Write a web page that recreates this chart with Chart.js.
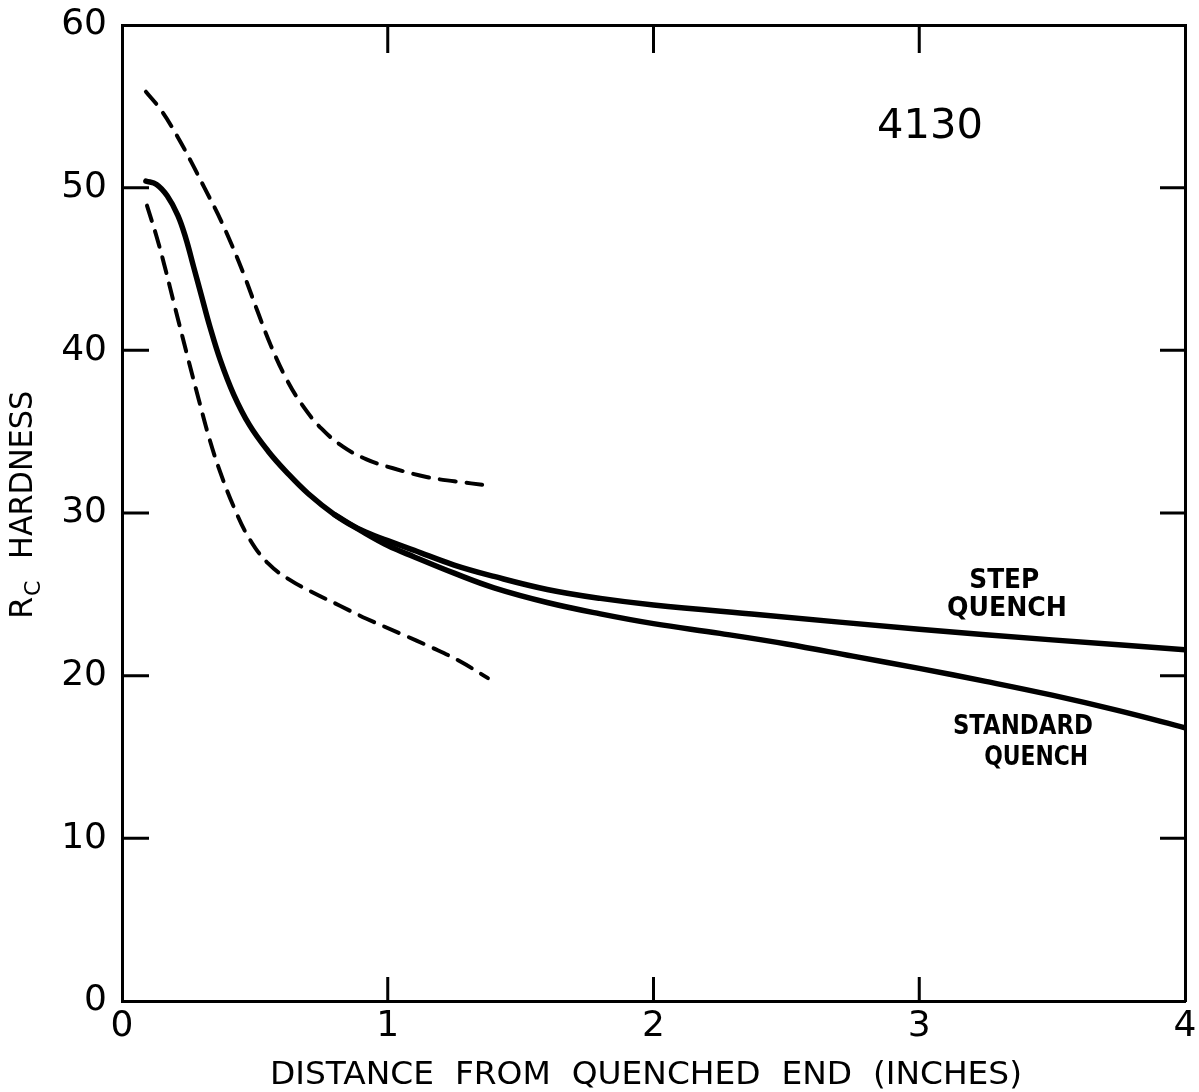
<!DOCTYPE html>
<html>
<head>
<meta charset="utf-8">
<script src="https://cdn.jsdelivr.net/npm/chart.js@4/dist/chart.umd.min.js"></script>
<style>
  html, body { margin: 0; padding: 0; background: #fff; }
  #chart { display: block; }
</style>
</head>
<body>
<canvas id="chart" width="1199" height="1092"></canvas>
<script>
// distance from quenched end (inches) vs Rc hardness
const standardX = [0.09, 0.13, 0.17, 0.21, 0.24, 0.27, 0.30, 0.33, 0.37, 0.42, 0.48, 0.55, 0.62, 0.70, 0.80, 0.90, 1.00, 1.10, 1.25, 1.40, 1.60, 1.80, 2.00, 2.25, 2.50, 2.75, 3.00, 3.25, 3.50, 3.75, 4.00];
const standardY = [50.4, 50.2, 49.5, 48.3, 46.9, 45.1, 43.3, 41.5, 39.4, 37.3, 35.4, 33.8, 32.5, 31.2, 29.9, 28.9, 28.0, 27.3, 26.3, 25.4, 24.5, 23.8, 23.2, 22.6, 21.95, 21.2, 20.45, 19.65, 18.8, 17.85, 16.8];

const stepX = [0.80, 0.90, 1.00, 1.10, 1.25, 1.40, 1.60, 1.80, 2.00, 2.40, 3.00, 3.50, 4.00];
const stepY = [29.9, 28.95, 28.3, 27.7, 26.8, 26.1, 25.3, 24.75, 24.35, 23.75, 22.85, 22.2, 21.6];

const upperBandX = [0.09, 0.15, 0.21, 0.26, 0.31, 0.36, 0.41, 0.46, 0.51, 0.56, 0.62, 0.68, 0.75, 0.83, 0.92, 1.02, 1.15, 1.25, 1.377];
const upperBandY = [55.9, 54.7, 53.1, 51.6, 50.0, 48.4, 46.6, 44.6, 42.4, 40.3, 38.2, 36.6, 35.2, 34.1, 33.3, 32.75, 32.2, 31.95, 31.7];

const lowerBandX = [0.094, 0.13, 0.16, 0.20, 0.25, 0.29, 0.33, 0.37, 0.42, 0.48, 0.55, 0.63, 0.72, 0.82, 0.92, 1.046, 1.17, 1.27, 1.377];
const lowerBandY = [48.9, 47.0, 45.2, 42.6, 39.4, 36.9, 34.5, 32.5, 30.4, 28.4, 26.9, 25.9, 25.1, 24.3, 23.5, 22.6, 21.7, 20.9, 19.85];

const xTickValues = [1, 2, 3];
const yTickValues = [10, 20, 30, 40, 50];

const FONT = "'DejaVu Sans', sans-serif";

function pts(xs, ys) {
  return xs.map((x, i) => ({ x: x, y: ys[i] }));
}

function solid(xs, ys) {
  return {
    data: pts(xs, ys),
    showLine: true,
    borderColor: '#000',
    borderWidth: 5.5,
    pointRadius: 0,
    tension: 0.4,
    borderCapStyle: 'round'
  };
}

function dashed(xs, ys) {
  return {
    data: pts(xs, ys),
    showLine: true,
    borderColor: '#000',
    borderWidth: 4,
    borderDash: [16, 11],
    pointRadius: 0,
    tension: 0.4,
    borderCapStyle: 'round'
  };
}

// draws text so it fits a given width (old hand lettering is wide)
function fitText(ctx, text, cx, cy, size, weight, width) {
  ctx.save();
  ctx.font = weight + ' ' + size + 'px ' + FONT;
  const w = ctx.measureText(text).width;
  ctx.translate(cx, cy);
  ctx.scale(width / w, 1);
  ctx.textAlign = 'center';
  ctx.textBaseline = 'middle';
  ctx.fillStyle = '#000';
  ctx.fillText(text, 0, 0);
  ctx.restore();
}

const decorations = {
  id: 'decorations',
  afterDraw(chart) {
    const { ctx, chartArea: { left, right, top, bottom }, scales: { x, y } } = chart;
    ctx.save();
    ctx.strokeStyle = '#000';
    ctx.lineWidth = 3;
    ctx.beginPath();
    xTickValues.forEach(v => {
      const px = x.getPixelForValue(v);
      ctx.moveTo(px, bottom); ctx.lineTo(px, bottom - 24);
      ctx.moveTo(px, top); ctx.lineTo(px, top + 28);
    });
    yTickValues.forEach(v => {
      const py = y.getPixelForValue(v);
      ctx.moveTo(left, py); ctx.lineTo(left + 27, py);
      ctx.moveTo(right, py); ctx.lineTo(right - 25, py);
    });
    ctx.stroke();
    ctx.restore();

    // curve labels
    fitText(ctx, '4130', x.getPixelForValue(3.04), y.getPixelForValue(53.7), 40, 'normal', 106);
    fitText(ctx, 'STEP', x.getPixelForValue(3.32), y.getPixelForValue(25.8), 27, 'bold', 70);
    fitText(ctx, 'QUENCH', x.getPixelForValue(3.33), y.getPixelForValue(24.1), 27, 'bold', 120);
    fitText(ctx, 'STANDARD', x.getPixelForValue(3.39), y.getPixelForValue(16.85), 27, 'bold', 140);
    fitText(ctx, 'QUENCH', x.getPixelForValue(3.44), y.getPixelForValue(14.95), 27, 'bold', 104);

    // axis titles
    fitText(ctx, 'DISTANCE  FROM  QUENCHED  END  (INCHES)', 646, 1076, 32, 'normal', 752);

    ctx.save();
    ctx.translate(24, 505);
    ctx.rotate(-Math.PI / 2);
    ctx.fillStyle = '#000';
    ctx.textBaseline = 'middle';
    ctx.font = 'normal 32px ' + FONT;
    const rW = ctx.measureText('R').width;
    const hText = 'HARDNESS';
    const hW = ctx.measureText(hText).width;
    const hTarget = 168;
    const total = rW + 16 + 22 + hTarget;
    let cx = -total / 2;
    ctx.fillText('R', cx, 0);
    cx += rW + 1;
    ctx.font = 'normal 22px ' + FONT;
    ctx.fillText('C', cx, 10);
    cx += 37;
    ctx.font = 'normal 32px ' + FONT;
    ctx.save();
    ctx.translate(cx, 0);
    ctx.scale(hTarget / hW, 1);
    ctx.fillText(hText, 0, 0);
    ctx.restore();
    ctx.restore();
  }
};

const ctx = document.getElementById('chart').getContext('2d');
new Chart(ctx, {
  type: 'scatter',
  data: {
    datasets: [
      solid(standardX, standardY),
      solid(stepX, stepY),
      dashed(upperBandX, upperBandY),
      dashed(lowerBandX, lowerBandY)
    ]
  },
  options: {
    responsive: false,
    animation: false,
    layout: { padding: 0 },
    plugins: {
      legend: { display: false },
      tooltip: { enabled: false }
    },
    scales: {
      x: {
        type: 'linear', position: 'bottom', min: 0, max: 4,
        ticks: { stepSize: 1, color: '#000', padding: 0, font: { family: FONT, size: 36, lineHeight: 1 } },
        grid: { display: false },
        border: { display: true, color: '#000', width: 3 },
        afterFit: s => { s.height = 91; }
      },
      x2: {
        type: 'linear', position: 'top', min: 0, max: 4,
        ticks: { display: false },
        grid: { display: false },
        border: { display: true, color: '#000', width: 3 },
        afterFit: s => { s.height = 22; }
      },
      y: {
        type: 'linear', position: 'left', min: 0, max: 60,
        ticks: { stepSize: 10, color: '#000', padding: 7, font: { family: FONT, size: 36, lineHeight: 1 } },
        grid: { display: false },
        border: { display: true, color: '#000', width: 3 },
        afterFit: s => { s.width = 122; }
      },
      y2: {
        type: 'linear', position: 'right', min: 0, max: 60,
        ticks: { display: false },
        grid: { display: false },
        border: { display: true, color: '#000', width: 3 },
        afterFit: s => { s.width = 14; }
      }
    }
  },
  plugins: [decorations]
});
</script>
</body>
</html>
